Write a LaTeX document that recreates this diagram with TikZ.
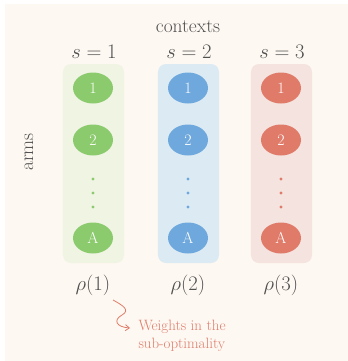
\documentclass[tikz,border=0pt]{standalone}
\usetikzlibrary{arrows.meta,shapes.geometric}
\definecolor{bgc}{HTML}{FDF8F1}
\definecolor{txt}{HTML}{505050}
\definecolor{gD}{HTML}{8BCB6D}
\definecolor{gL}{HTML}{F0F4E3}
\definecolor{bD}{HTML}{6FA8DC}
\definecolor{bL}{HTML}{DCEBF3}
\definecolor{rD}{HTML}{E07B6A}
\definecolor{rL}{HTML}{F4E3DF}
\tikzset{
  arm/.style={ellipse, minimum width=40bp, minimum height=31bp, inner sep=0pt, text=white, font=\fontsize{16}{18}\selectfont},
  colbox/.style={rounded corners=8bp, minimum width=61bp, minimum height=199bp, inner sep=0pt},
  dotc/.style={circle, inner sep=0pt, minimum size=3.2bp},
  mlab/.style={text=txt, font=\fontsize{22.5}{26}\selectfont},
  tlab/.style={text=txt, font=\fontsize{19.5}{22}\selectfont},
  note/.style={text=rD, align=left, font=\fontsize{15}{18.5}\selectfont}
}
\begin{document}
\begin{tikzpicture}[x=1bp,y=-1bp]
\useasboundingbox (0,0) rectangle (348,361);
\fill[bgc] (5,4) rectangle (348,361);
\node[tlab] (ctx) at (188,27) {contexts};
\node[tlab, rotate=90] (arms) at (29,152) {arms};
\foreach \i/\x/\D/\L in {1/93/gD/gL, 2/188/bD/bL, 3/281/rD/rL} {
  \node[colbox, fill=\L] (box\i) at (\x+0.5,163.5) {};
  \node[mlab] (s\i) at (\x+1,52) {$s=\i$};
  \node[arm, fill=\D] (a\i-1) at (\x,88) {1};
  \node[arm, fill=\D] (a\i-2) at (\x,140) {2};
  \node[dotc, fill=\D] (d\i-1) at (\x,179) {};
  \node[dotc, fill=\D] (d\i-2) at (\x,193) {};
  \node[dotc, fill=\D] (d\i-3) at (\x,207) {};
  \node[arm, fill=\D] (a\i-A) at (\x,238) {A};
  \node[mlab] (rho\i) at (\x,285) {$\rho(\i)$};
}
\node[note, anchor=west] (w) at (135,336) {Weights in the\\sub-optimality};
\coordinate (sq) at (113,300);
\draw[rD, line width=0.8bp, -{Straight Barb[length=4bp, width=6bp]}] (sq) .. controls (122,305) and (131,310) .. (122,315)
  .. controls (113,320) and (116,327) .. (130,328);
\end{tikzpicture}
\end{document}
